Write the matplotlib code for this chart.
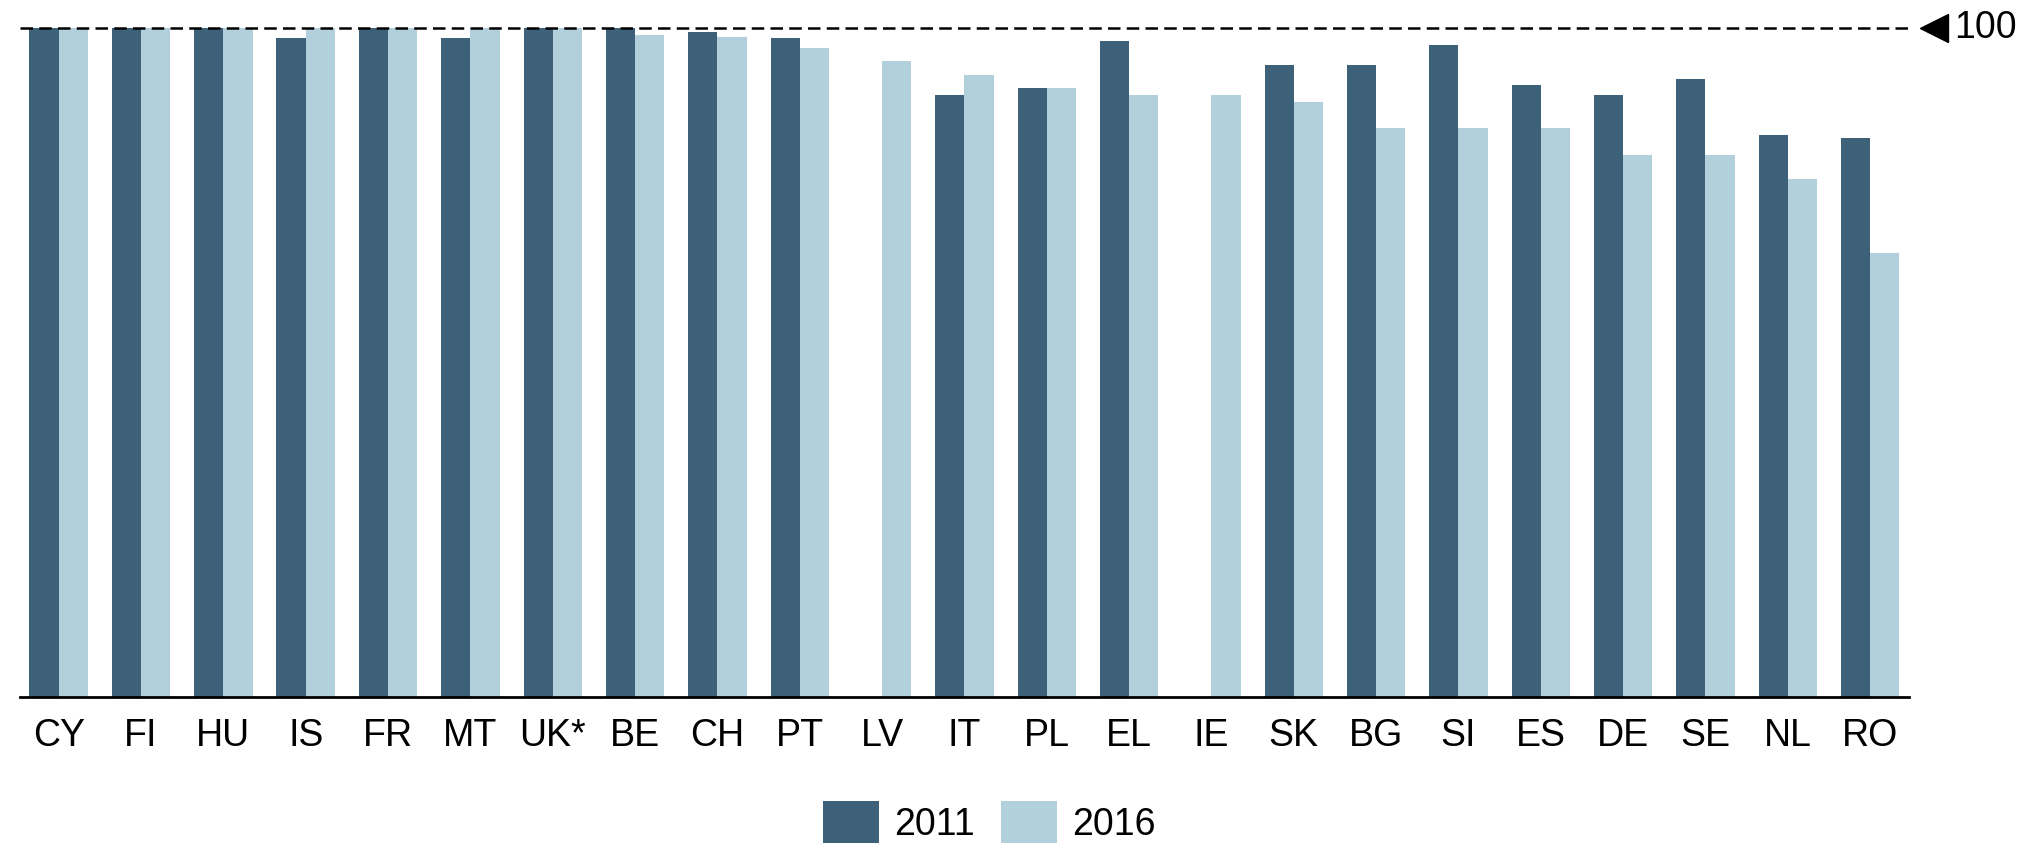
import numpy as np
import matplotlib
matplotlib.use('Agg')
import matplotlib.pyplot as plt

plt.rcParams['font.family'] = ['Liberation Sans Narrow', 'Liberation Sans', 'DejaVu Sans']

# data
countries = ['CY', 'FI', 'HU', 'IS', 'FR', 'MT', 'UK*', 'BE', 'CH', 'PT', 'LV', 'IT',
             'PL', 'EL', 'IE', 'SK', 'BG', 'SI', 'ES', 'DE', 'SE', 'NL', 'RO']
values_2011 = [100, 100, 100, 98.5, 100, 98.5, 100, 100, 99.4, 98.5, np.nan, 89.9,
               91.0, 98.0, np.nan, 94.4, 94.4, 97.5, 91.4, 89.9, 92.4, 84.0, 83.5]
values_2016 = [100, 100, 100, 100, 100, 100, 100, 99.0, 98.6, 97.0, 95.0, 93.0,
               91.0, 89.9, 89.9, 88.9, 85.0, 85.0, 85.0, 81.0, 81.0, 77.4, 66.3]
series_labels = ['2011', '2016']
reference_value = 100

dark_blue = '#3c6178'
light_blue = '#b1d0db'

fig = plt.figure(figsize=(20.42, 8.43), dpi=100)
ax = fig.add_axes([0.0096, 0.173, 0.9254, 0.794])

x = np.arange(len(countries))
w = 0.355
ax.bar(x - w / 2, values_2011, width=w, color=dark_blue, label=series_labels[0])
ax.bar(x + w / 2, values_2016, width=w, color=light_blue, label=series_labels[1])

ax.set_xlim(-0.475, len(countries) - 0.525)
ax.set_ylim(0, 100)

# dashed reference line with marker and label on the right
ax.axhline(reference_value, color='black', linestyle=(0, (5, 2.5)), linewidth=1.8, clip_on=False, zorder=3)
ax.plot([1.013], [reference_value], marker='<', markersize=20, color='black',
        transform=ax.get_yaxis_transform(), clip_on=False)
ax.text(1.0235, reference_value, str(reference_value), transform=ax.get_yaxis_transform(),
        ha='left', va='center', fontsize=27)

ax.set_xticks(x)
ax.set_xticklabels(countries, fontsize=27)
ax.tick_params(axis='x', length=0, pad=15)
ax.set_yticks([])
for side in ['left', 'right', 'top']:
    ax.spines[side].set_visible(False)
ax.spines['bottom'].set_linewidth(2)

ax.legend(loc='upper center', bbox_to_anchor=(0.513, -0.104), ncol=2, frameon=False,
          fontsize=27, handlelength=1.5, handleheight=1.4, columnspacing=0.7, handletextpad=0.4)

plt.savefig('out.png', dpi=100)
